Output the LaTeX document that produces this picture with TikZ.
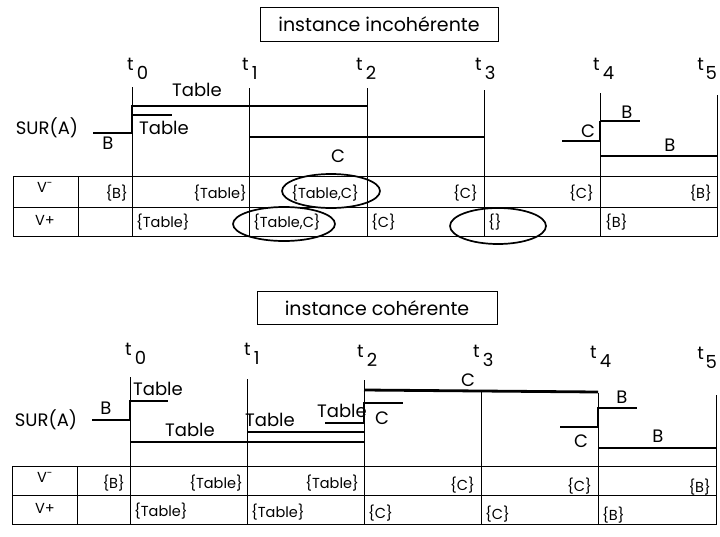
\documentclass[tikz,border=0pt]{standalone}
\usepackage{fontspec}
\setmainfont{Poppins}
\newcommand{\tk}[1]{t\raisebox{-9pt}{\kern3pt#1}}
\tikzset{
  sig/.style={line width=2.8pt},
  midsig/.style={line width=2pt},
  instant/.style={line width=0.8pt},
  gridline/.style={line width=0.9pt},
  ring/.style={line width=1.7pt},
  lbl/.style={font=\fontsize{18}{21}\selectfont, inner sep=0pt},
  hdr/.style={font=\fontsize{19}{22}\selectfont, inner sep=0pt},
  cell/.style={font=\fontsize{14.5}{17}\selectfont, inner sep=0pt},
}
\begin{document}
\begin{tikzpicture}[x=1pt,y=-1pt]
\useasboundingbox (0,0) rectangle (720,536);

% ===== instance incoherente =====
\node[draw, line width=1pt, minimum width=238pt, minimum height=34pt, hdr] (titleA) at (379,24) {instance incohérente};

% instants
\node[lbl, anchor=base west] (tA0) at (127,70) {\tk{0}};
\node[lbl, anchor=base west] (tA1) at (242,70) {\tk{1}};
\node[lbl, anchor=base west] (tA2) at (356,70) {\tk{2}};
\node[lbl, anchor=base west] (tA3) at (475,70) {\tk{3}};
\node[lbl, anchor=base west] (tA4) at (593,70) {\tk{4}};
\node[lbl, anchor=base east] (tA5) at (717,70) {t\raisebox{-9pt}{\kern1.5pt5}};
\draw[instant] (132,87) -- (132,236);
\draw[instant] (249,88) -- (249,236);
\draw[instant] (367,88) -- (367,236);
\draw[instant] (484,90) -- (484,236);
\draw[instant] (600,93) -- (600,236);
\draw[instant] (717,95) -- (717,236);

% SUR(A)
\node[lbl] (surA) at (47,128) {SUR(A)};
\draw[sig] (93,133) -- (132,133) -- (132,106) -- (367,106);
\draw[midsig] (132,115) -- (172,115);
\draw[midsig] (249,137) -- (484,137);
\draw[sig] (562,141) -- (600,141) -- (600,121);
\draw[midsig] (600,121) -- (640,121);
\draw[sig] (600,156) -- (717,156);
\node[lbl] (bA) at (108,143) {B};
\node[lbl] (tabA1) at (197,90) {Table};
\node[lbl] (tabA2) at (164,128) {Table};
\node[lbl] (cA1) at (338,156) {C};
\node[lbl] (cA2) at (588,131) {C};
\node[lbl] (bA2) at (627,112) {B};
\node[lbl] (bA3) at (670,145) {B};

% table V- / V+
\draw[gridline] (13,176) rectangle (717,236);
\draw[gridline] (13,207) -- (717,207);
\draw[gridline] (78,176) -- (78,236);
\node[cell] (vmA) at (45,187) {V\textsuperscript{-}};
\node[cell] (vpA) at (45,220) {V+};
\node[cell, anchor=east] (vmA0) at (128,193) {\{B\}};
\node[cell, anchor=east] (vmA1) at (247,193) {\{Table\}};
\node[cell, anchor=east] (vmA2) at (359,193) {\{Table,C\}};
\node[cell, anchor=east] (vmA3) at (478,193) {\{C\}};
\node[cell, anchor=east] (vmA4) at (594,193) {\{C\}};
\node[cell, anchor=east] (vmA5) at (712,193) {\{B\}};
\node[cell, anchor=west] (vpA1) at (136,222) {\{Table\}};
\node[cell, anchor=west] (vpA2) at (253,222) {\{Table,C\}};
\node[cell, anchor=west] (vpA3) at (371,222) {\{C\}};
\node[cell, anchor=west] (vpA4) at (488,222) {\{\}};
\node[cell, anchor=west] (vpA5) at (605,222) {\{B\}};

% incoherences
\draw[ring] (331,191) ellipse [x radius=49pt, y radius=17pt];
\draw[ring] (284,224) ellipse [x radius=51pt, y radius=17pt];
\draw[ring] (498,226) ellipse [x radius=48pt, y radius=18pt];

% ===== instance coherente =====
\node[draw, line width=1pt, minimum width=240pt, minimum height=33pt, hdr] (titleB) at (377,308) {instance cohérente};

% instants
\node[lbl, anchor=base west] (tB0) at (125,355) {\tk{0}};
\node[lbl, anchor=base west] (tB1) at (244,355) {\tk{1}};
\node[lbl, anchor=base west] (tB2) at (357,357) {\tk{2}};
\node[lbl, anchor=base west] (tB3) at (473,357) {\tk{3}};
\node[lbl, anchor=base west] (tB4) at (590,358) {\tk{4}};
\node[lbl, anchor=base east] (tB5) at (717,359) {t\raisebox{-9pt}{\kern1.5pt5}};
\draw[instant] (130,377) -- (130,524);
\draw[instant] (247,379) -- (247,524);
\draw[instant] (364,380) -- (364,524);
\draw[instant] (481,390) -- (481,524);
\draw[instant] (598,393) -- (598,524);
\draw[instant] (716,395) -- (716,524);

% SUR(A)
\node[lbl] (surB) at (46,420) {SUR(A)};
\draw[sig] (92,420) -- (130,420) -- (130,401) -- (168,401);
\draw[sig] (130,442) -- (364,442);
\draw[midsig] (247,432) -- (364,432);
\draw[sig] (325,423) -- (364,423) -- (364,403) -- (403,403);
\draw[sig] (364,390) -- (598,392);
\draw[sig] (560,427) -- (598,427) -- (598,408) -- (637,408);
\draw[sig] (598,448) -- (716,448);
\node[lbl] (bB) at (106,408) {B};
\node[lbl] (tabB1) at (158,389) {Table};
\node[lbl] (tabB2) at (190,430) {Table};
\node[lbl] (tabB3) at (270,420) {Table};
\node[lbl] (tabB4) at (342,411) {Table};
\node[lbl] (cB1) at (382,418) {C};
\node[lbl] (cB2) at (468,380) {C};
\node[lbl] (cB3) at (581,441) {C};
\node[lbl] (bB2) at (622,397) {B};
\node[lbl] (bB3) at (658,436) {B};

% table V- / V+
\draw[gridline] (12,466) rectangle (716,524);
\draw[gridline] (12,495) -- (716,495);
\draw[gridline] (77,466) -- (77,524);
\node[cell] (vmB) at (45,477) {V\textsuperscript{-}};
\node[cell] (vpB) at (45,508) {V+};
\node[cell, anchor=east] (vmB0) at (125,483) {\{B\}};
\node[cell, anchor=east] (vmB1) at (243,483) {\{Table\}};
\node[cell, anchor=east] (vmB2) at (359,483) {\{Table\}};
\node[cell, anchor=east] (vmB3) at (475,485) {\{C\}};
\node[cell, anchor=east] (vmB4) at (592,486) {\{C\}};
\node[cell, anchor=east] (vmB5) at (711,487) {\{B\}};
\node[cell, anchor=west] (vpB1) at (134,511) {\{Table\}};
\node[cell, anchor=west] (vpB2) at (251,512) {\{Table\}};
\node[cell, anchor=west] (vpB3) at (368,513) {\{C\}};
\node[cell, anchor=west] (vpB4) at (485,514) {\{C\}};
\node[cell, anchor=west] (vpB5) at (602,515) {\{B\}};
\end{tikzpicture}
\end{document}
